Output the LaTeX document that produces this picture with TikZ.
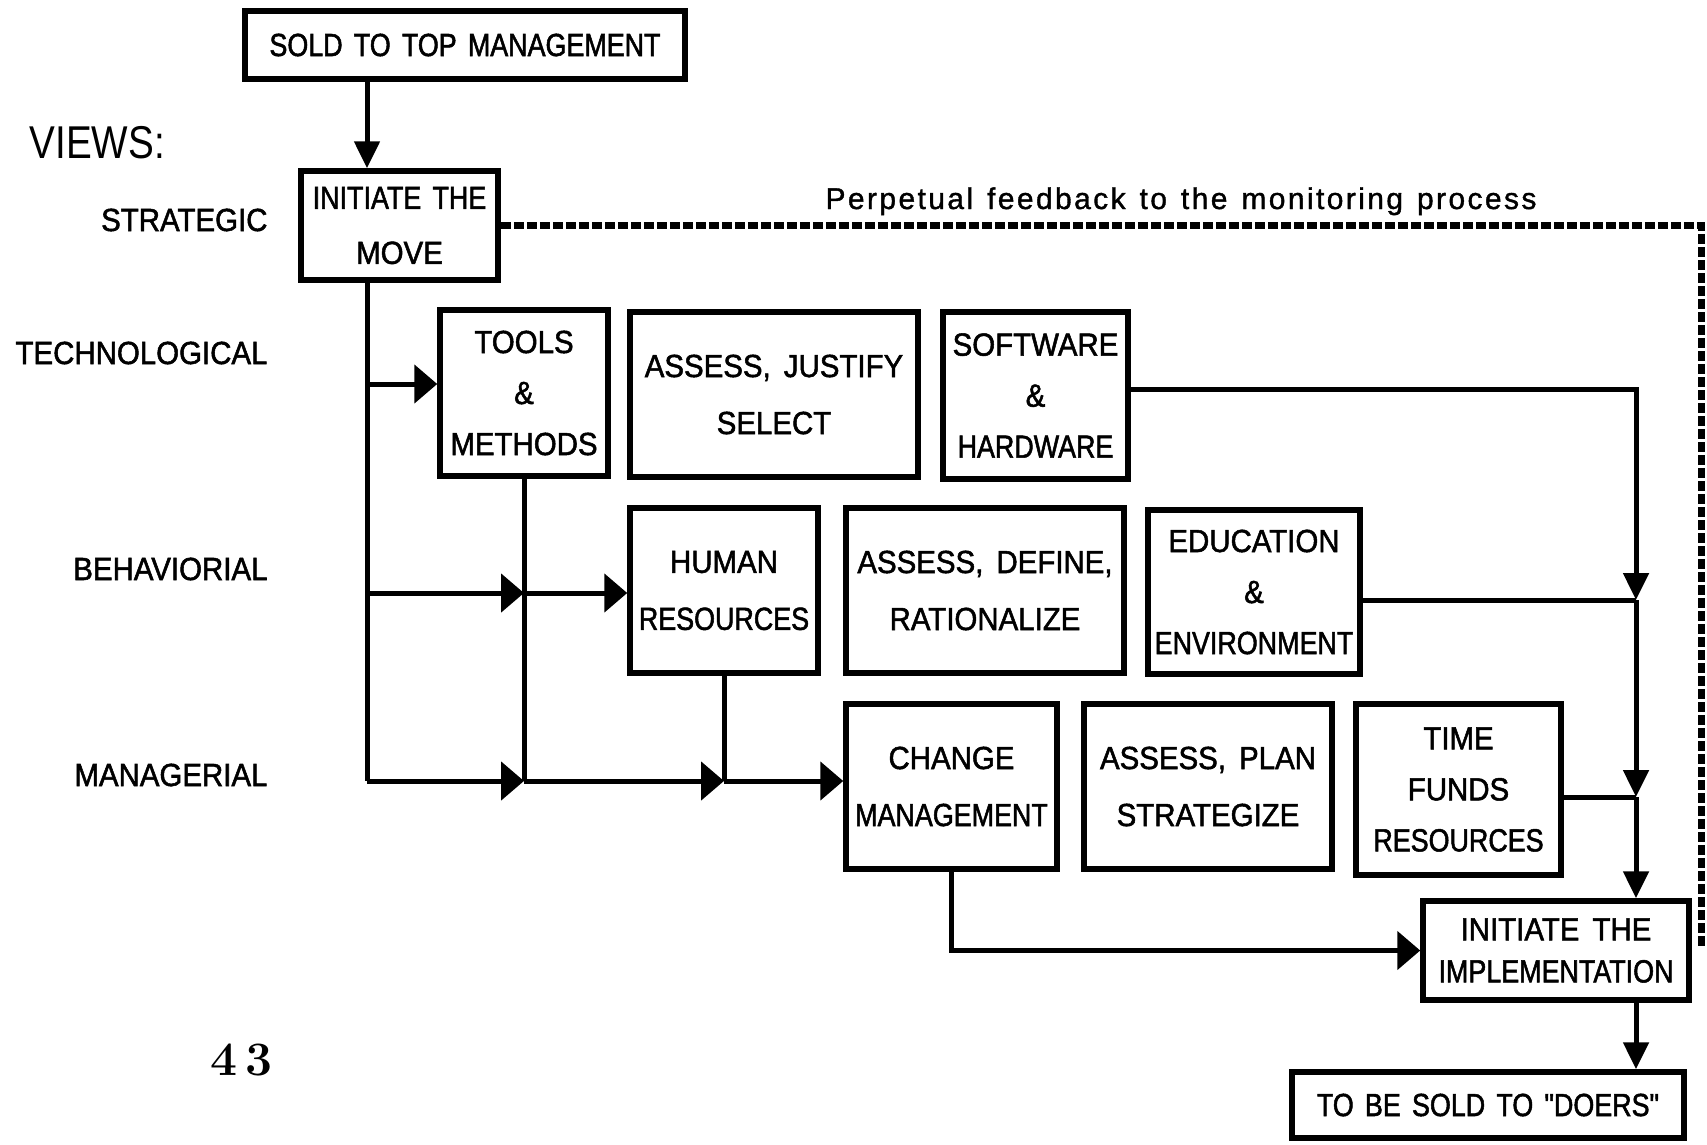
\documentclass[tikz,border=0pt]{standalone}
\usepackage{fontspec}
\newfontfamily\boxfont[FakeStretch=0.92,FakeBold=1.6,WordSpace=1.6]{Liberation Sans}
\newfontfamily\narrowfont[FakeStretch=0.84,FakeBold=1.6,WordSpace=1.5]{Liberation Sans}
\newfontfamily\viewfont[FakeStretch=0.84]{Liberation Sans}
\newfontfamily\fbfont[LetterSpace=8,FakeBold=1.2,WordSpace=1.3]{Liberation Sans}
\usetikzlibrary{arrows.meta}
\tikzset{
  box/.style={draw, line width=5.5pt, inner sep=0pt, align=center,
    font=\boxfont\fontsize{32}{51}\selectfont},
  lab/.style={anchor=base east, font=\boxfont\fontsize{32}{40}\selectfont},
  ln/.style={line width=5pt},
  harr/.style={ln, -{Triangle[length=23pt,width=38pt]}},
  varr/.style={ln, -{Triangle[length=27pt,width=25pt]}},
  fbline/.style={line width=7pt, dash pattern=on 10pt off 3pt},
}
\begin{document}
\begin{tikzpicture}[x=1pt,y=-1pt]
\useasboundingbox (0,0) rectangle (1707,1144);

% boxes
\node[box,minimum width=440pt,minimum height=68pt] (sold) at (465,45) {\narrowfont SOLD TO TOP MANAGEMENT};
\node[box,minimum width=197pt,minimum height=109pt] (move) at (399.5,225.5) {{\narrowfont INITIATE THE}\\[4pt]MOVE};
\node[box,minimum width=168pt,minimum height=166pt] (tools) at (524,393) {TOOLS\\\&\\METHODS};
\node[box,minimum width=288pt,minimum height=165pt] (assj) at (774,394.5) {ASSESS, JUSTIFY\\[6pt]SELECT};
\node[box,minimum width=185pt,minimum height=167pt] (soft) at (1035.5,395.5) {SOFTWARE\\\&\\{\narrowfont HARDWARE}};
\node[box,minimum width=188pt,minimum height=165pt] (human) at (724,590.5) {HUMAN\\[6pt]{\narrowfont RESOURCES}};
\node[box,minimum width=278pt,minimum height=165pt] (assd) at (985,590.5) {ASSESS, DEFINE,\\[6pt]RATIONALIZE};
\node[box,minimum width=212pt,minimum height=164pt] (edu) at (1254,592) {EDUCATION\\\&\\{\narrowfont ENVIRONMENT}};
\node[box,minimum width=211pt,minimum height=165pt] (change) at (951.5,786.5) {CHANGE\\[6pt]{\narrowfont MANAGEMENT}};
\node[box,minimum width=248pt,minimum height=165pt] (assp) at (1208,786.5) {ASSESS, PLAN\\[6pt]STRATEGIZE};
\node[box,minimum width=205pt,minimum height=171pt] (time) at (1458.5,789.5) {TIME\\FUNDS\\{\narrowfont RESOURCES}};
\node[box,minimum width=266pt,minimum height=99pt] (impl) at (1556,950.5) {INITIATE THE\\[-9pt]{\narrowfont IMPLEMENTATION}};
\node[box,minimum width=392pt,minimum height=66pt] (doers) at (1488,1105) {\narrowfont TO BE SOLD TO "DOERS"};

% labels
\node[anchor=base west, font=\viewfont\fontsize{46}{50}\selectfont] (views) at (26,158) {VIEWS:};
\node[lab] (lstrat) at (271,231) {STRATEGIC};
\node[lab] (ltech) at (271,364) {TECHNOLOGICAL};
\node[lab] (lbeh) at (271,580) {BEHAVIORIAL};
\node[lab] (lman) at (271,786) {MANAGERIAL};
\node[anchor=base west, font=\fbfont\fontsize{30}{36}\selectfont] (fb) at (822,209) {Perpetual feedback to the monitoring process};
\node[anchor=base west, font=\rmfamily\bfseries\fontsize{48}{56}\selectfont] (pg) at (207,1075) {4\,3};

% helper coordinates
\coordinate (xt) at (367,0);
\coordinate (xr) at (1636,0);
\coordinate (yT) at (0,384);
\coordinate (yB) at (0,593);
\coordinate (yM) at (0,781);
\coordinate (yS) at (0,389);
\coordinate (yE) at (0,600);
\coordinate (yF) at (0,797);
\coordinate (fbend) at (1701,947);

% connectors
\draw[varr] (sold.south -| xt) -- (move.north -| xt);
\draw[ln] (move.south -| xt) -- (xt |- yM);
\draw[harr] (xt |- yT) -- (tools.west |- yT);
\draw[harr] (xt |- yB) -- (tools.south |- yB);
\draw[harr] (xt |- yM) -- (tools.south |- yM);
\draw[ln] (tools.south) -- (tools.south |- yM);
\draw[harr] (tools.south |- yB) -- (human.west |- yB);
\draw[harr] (tools.south |- yM) -- (human.south |- yM);
\draw[ln] (human.south) -- (human.south |- yM);
\draw[harr] (human.south |- yM) -- (change.west |- yM);
\draw[harr] (change.south) |- (impl.west);
\draw[varr] (soft.east |- yS) -| (xr |- yE);
\draw[ln] (edu.east |- yE) -- (xr |- yE);
\draw[varr] (xr |- yE) -- (xr |- yF);
\draw[ln] (time.east |- yF) -- (xr |- yF);
\draw[varr] (xr |- yF) -- (impl.north -| xr);
\draw[varr] (impl.south -| xr) -- (doers.north -| xr);
\draw[fbline] (move.east) -| (fbend);
\end{tikzpicture}
\end{document}
